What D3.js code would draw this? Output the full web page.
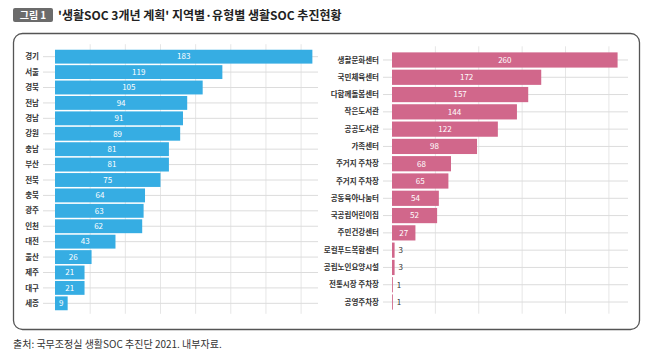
<!DOCTYPE html>
<html>
<head>
<meta charset="utf-8">
<script src="https://cdn.jsdelivr.net/npm/d3@7"></script>
<style>
  body { margin: 0; background: #fff; }
  svg text { font-family: "Noto Sans CJK KR", "Noto Sans", sans-serif; }
</style>
</head>
<body>
<div id="chart"></div>
<script>
// region data
var regions = ['경기', '서울', '경북', '전남', '경남', '강원', '충남', '부산', '전북', '충북', '광주', '인천', '대전', '울산', '제주', '대구', '세종'];
var regionValues = [183, 119, 105, 94, 91, 89, 81, 81, 75, 64, 63, 62, 43, 26, 21, 21, 9];

// facility type data
var types = ['생활문화센터', '국민체육센터', '다함께돌봄센터', '작은도서관', '공공도서관', '가족센터', '주거지 주차장', '주거지 주차장 ', '공동육아나눔터', '국공립어린이집', '주민건강센터', '로컬푸드복합센터', '공립노인요양시설', '전통시장 주차장', '공영주차장'];
var typeValues = [260, 172, 157, 144, 122, 98, 68, 65, 54, 52, 27, 3, 3, 1, 1];

var regionTicks = [25, 50, 75, 100, 125, 150, 175];
var typeTicks = [50, 100, 150, 200, 250];

var W = 660, H = 364;
var svg = d3.select("#chart").append("svg")
    .attr("width", W)
    .attr("height", H);

// title
svg.append("rect")
    .attr("x", 13).attr("y", 8)
    .attr("width", 40).attr("height", 14)
    .attr("rx", 2)
    .attr("fill", "#6b6b6b");
svg.append("text")
    .attr("x", 33).attr("y", 19)
    .attr("text-anchor", "middle")
    .attr("fill", "#fff")
    .style("font-size", "10px")
    .style("font-weight", "bold")
    .text("그림 1");
svg.append("text")
    .attr("x", 58).attr("y", 19.5)
    .attr("fill", "#222")
    .style("font-size", "12px")
    .style("font-weight", "bold")
    .text("'생활SOC 3개년 계획' 지역별·유형별 생활SOC 추진현황");

// panel border
svg.append("rect")
    .attr("x", 13.5).attr("y", 33.5)
    .attr("width", 626).attr("height", 296)
    .attr("rx", 9)
    .attr("fill", "none")
    .attr("stroke", "#555")
    .attr("stroke-width", 1.3);

// source
svg.append("text")
    .attr("x", 13).attr("y", 348)
    .attr("fill", "#333")
    .style("font-size", "10px")
    .text("출처: 국무조정실 생활SOC 추진단 2021. 내부자료.");

function barChart(opts) {
    var x = d3.scaleLinear().domain([0, opts.max]).range([opts.x0, opts.x1]);
    var y = d3.scaleBand().domain(opts.names).range([opts.y0, opts.y1]).padding(opts.pad);

    var g = svg.append("g");

    // vertical grid
    g.selectAll(".vgrid")
        .data(opts.ticks)
        .enter().append("line")
        .attr("class", "vgrid")
        .attr("x1", function (d) { return x(d); })
        .attr("x2", function (d) { return x(d); })
        .attr("y1", opts.y0 - 4)
        .attr("y2", opts.y1 + 2)
        .attr("stroke", "#e6e6e6")
        .attr("stroke-width", 1);

    // horizontal grid
    g.selectAll(".hgrid")
        .data(opts.names)
        .enter().append("line")
        .attr("class", "hgrid")
        .attr("x1", opts.gx0)
        .attr("x2", x(opts.max))
        .attr("y1", function (d) { return y(d) + y.bandwidth() / 2; })
        .attr("y2", function (d) { return y(d) + y.bandwidth() / 2; })
        .attr("stroke", "#dcdcdc")
        .attr("stroke-width", 1);

    // category labels
    g.selectAll(".cat")
        .data(opts.names)
        .enter().append("text")
        .attr("class", "cat")
        .attr("x", opts.gx0 - 4)
        .attr("y", function (d) { return y(d) + y.bandwidth() / 2; })
        .attr("dy", "0.35em")
        .attr("text-anchor", "end")
        .attr("fill", "#333")
        .style("font-size", "7.5px")
        .style("font-weight", "bold")
        .text(function (d) { return d.trim(); });

    var data = opts.names.map(function (n, i) { return { key: n, value: opts.values[i] }; });

    g.selectAll(".bar")
        .data(data)
        .enter().append("rect")
        .attr("class", "bar")
        .attr("x", x(0))
        .attr("y", function (d) { return y(d.key); })
        .attr("width", function (d) { return x(d.value) - x(0); })
        .attr("height", y.bandwidth())
        .attr("fill", opts.color);

    g.selectAll(".val")
        .data(data)
        .enter().append("text")
        .attr("class", "val")
        .attr("x", function (d) {
            var w = x(d.value) - x(0);
            return w < 10 ? x(d.value) + 4 : x(0) + w / 2;
        })
        .attr("y", function (d) { return y(d.key) + y.bandwidth() / 2; })
        .attr("dy", "0.35em")
        .attr("text-anchor", function (d) {
            return (x(d.value) - x(0)) < 10 ? "start" : "middle";
        })
        .attr("fill", function (d) {
            return (x(d.value) - x(0)) < 10 ? "#333" : "#fff";
        })
        .style("font-size", "8px")
        .text(function (d) { return d.value; });
}

barChart({
    names: regions, values: regionValues, ticks: regionTicks,
    max: 187, x0: 55, x1: 318, gx0: 43, y0: 48.2, y1: 311.8, pad: 0.1,
    color: "#36ade3"
});

barChart({
    names: types, values: typeValues, ticks: typeTicks,
    max: 272, x0: 392, x1: 628, gx0: 383, y0: 50.3, y1: 311.7, pad: 0.12,
    color: "#d1678b"
});
</script>
</body>
</html>
